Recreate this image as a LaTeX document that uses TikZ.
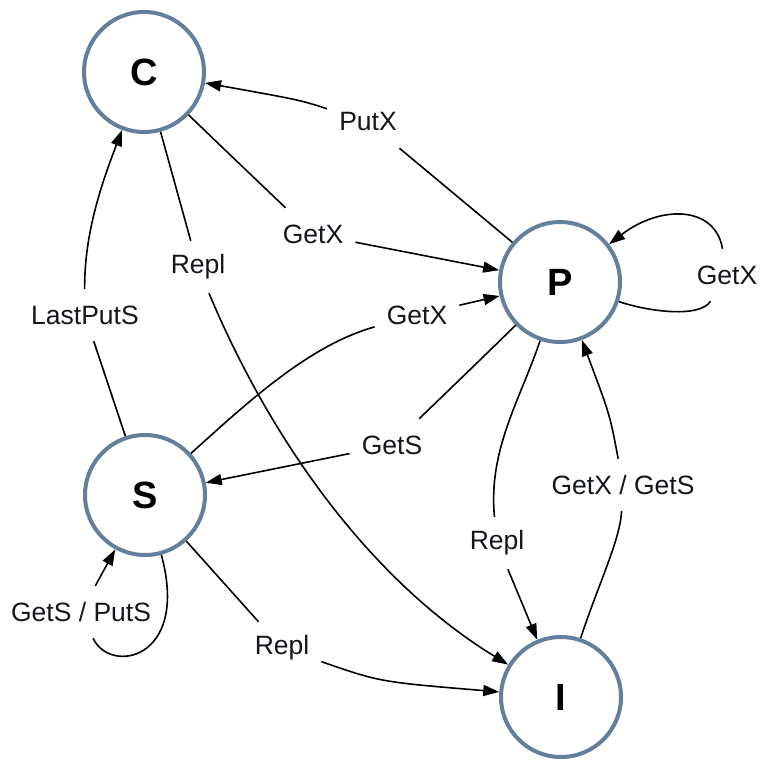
\documentclass[tikz,border=0pt]{standalone}
\usepackage{fontspec}
\setmainfont{Liberation Sans}
\usetikzlibrary{arrows.meta}
\definecolor{stateline}{RGB}{98,128,155}
\definecolor{inktext}{RGB}{20,22,30}
\tikzset{
  state/.style={circle, draw=stateline, line width=4pt, fill=white,
    minimum size=120pt, inner sep=0pt, text=black,
    font=\fontsize{38}{40}\selectfont\bfseries},
  elabel/.style={rectangle, inner xsep=12pt, inner ysep=0pt,
    minimum height=52pt, text=inktext, font=\fontsize{26.5}{30}\selectfont},
  edge/.style={draw=black, line width=1.6pt},
  arr/.style={edge, -{Triangle[length=16pt,width=11pt]}}
}
\begin{document}
\begin{tikzpicture}[x=1pt,y=-1pt]
\useasboundingbox (0,0) rectangle (761,762);

% states
\node[state] (C) at (144,72)  {C};
\node[state] (P) at (560,282) {P};
\node[state] (S) at (145,495) {S};
\node[state] (I) at (561,697) {I};

% transition labels
\node[elabel] (lPutX)  at (368,122) {PutX};
\node[elabel] (lGetXa) at (313,234) {GetX};
\node[elabel] (lReplC) at (198,267) {Repl};
\node[elabel] (lLast)  at (85,315)  {LastPutS};
\node[elabel] (lGetXb) at (417,315) {GetX};
\node[elabel] (lGetS)  at (392,445) {GetS};
\node[elabel] (lReplP) at (497,543) {Repl};
\node[elabel] (lGetXS) at (623,485) {GetX / GetS};
\node[elabel] (lReplS) at (282,648) {Repl};
\node[elabel] (lLoopP) at (727,275) {GetX};
\node[elabel] (lLoopS) at (81,612)  {GetS / PutS};

% P -> C
\draw[edge] (P) -- (lPutX);
\draw[arr] (lPutX) .. controls (300,100) .. (C);

% C -> P
\draw[edge] (C) .. controls (225,150) .. (lGetXa);
\draw[arr] (lGetXa) -- (P);

% C -> I
\draw[edge] (C) -- (lReplC);
\draw[arr] (lReplC) .. controls (271,441) and (370,580) .. (I);

% S -> C
\draw[edge] (S) -- (lLast);
\draw[arr] (lLast) .. controls (84,230) and (105,175) .. (C);

% S -> P
\draw[edge] (S) .. controls (250,400) and (310,345) .. (lGetXb);
\draw[arr] (lGetXb) -- (P);

% P -> S
\draw[edge] (P) .. controls (480,360) .. (lGetS);
\draw[arr] (lGetS) -- (S);

% P -> I
\draw[edge] (P) .. controls (520,400) and (488,450) .. (lReplP);
\draw[arr] (lReplP) -- (I);

% I -> P
\draw[edge] (I) .. controls (600,580) and (620,540) .. (lGetXS);
\draw[arr] (lGetXS) .. controls (610,415) .. (P);

% S -> I
\draw[edge] (S) -- (lReplS);
\draw[arr] (lReplS) .. controls (380,682) .. (I);

% P self-loop
\draw[edge] (P) .. controls (650,312) and (700,318) .. (lLoopP);
\draw[arr] (lLoopP) .. controls (715,205) and (660,205) .. (P);

% S self-loop
\draw[edge] (S) .. controls (190,660) and (110,675) .. (lLoopS);
\draw[arr] (lLoopS) -- (S);
\end{tikzpicture}
\end{document}
